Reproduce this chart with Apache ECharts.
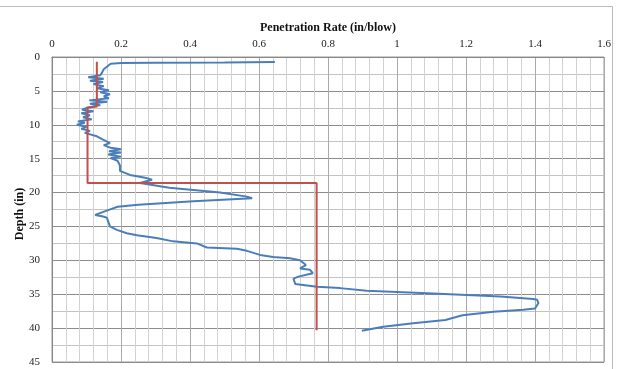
<!DOCTYPE html>
<html>
<head>
<meta charset="utf-8">
<script src="https://cdn.jsdelivr.net/npm/echarts@6/dist/echarts.min.js"></script>
<style>
html,body{margin:0;padding:0;background:#fff;}
#c{width:618px;height:369px;}
</style>
</head>
<body>
<div id="c"></div>
<script>
// Penetration rate (in/blow) measured along depth (in)
const rateBlue = [0.646,0.5,0.3,0.2,0.17,0.16,0.15,0.145,0.14,0.105,0.15,0.11,0.148,0.12,0.15,0.13,0.165,0.14,0.168,0.15,0.165,0.108,0.16,0.11,0.14,0.1,0.087,0.12,0.085,0.11,0.09,0.115,0.075,0.095,0.072,0.1,0.085,0.11,0.095,0.13,0.148,0.168,0.15,0.17,0.2,0.165,0.2,0.163,0.2,0.17,0.19,0.197,0.197,0.226,0.27,0.29,0.255,0.34,0.487,0.565,0.58,0.41,0.25,0.19,0.163,0.125,0.145,0.159,0.163,0.168,0.188,0.217,0.246,0.303,0.351,0.42,0.449,0.536,0.565,0.603,0.641,0.69,0.719,0.736,0.719,0.748,0.756,0.714,0.70,0.705,0.768,0.835,0.912,1.105,1.30,1.395,1.406,1.41,1.40,1.366,1.28,1.19,1.14,1.047,0.96,0.898];
const depthBlue = [0.74,0.8,0.85,0.9,1.0,1.4,1.8,2.3,2.7,3.0,3.2,3.5,3.7,4.0,4.3,4.6,4.9,5.2,5.5,5.8,6.1,6.4,6.6,6.9,7.1,7.5,7.8,8.0,8.3,8.6,8.9,9.2,9.5,9.7,10.0,10.3,10.6,10.9,11.2,11.7,12.2,12.7,13.0,13.4,13.6,13.9,14.1,14.4,14.7,14.9,15.3,16.0,16.8,17.4,17.8,18.1,18.6,19.3,20.0,20.6,20.85,21.3,21.8,22.1,22.6,23.3,23.5,23.7,24.3,25.0,25.5,26.0,26.3,26.7,27.2,27.5,28.1,28.3,28.6,29.2,29.5,29.7,30.0,30.7,31.2,31.4,31.9,32.4,32.7,33.5,33.9,34.1,34.5,34.9,35.35,35.7,35.8,36.3,37.1,37.3,37.6,38.1,38.8,39.3,39.8,40.4];
// Step (design) line
const rateRed = [0.13,0.13,0.103,0.103,0.767,0.767];
const depthRed = [0.7,7.3,7.5,18.6,18.6,40.3];
// Tick labels and titles
const xTickLabels = ['0','0.2','0.4','0.6','0.8','1','1.2','1.4','1.6'];
const yTickLabels = ['0','5','10','15','20','25','30','35','40','45'];
const xTitle = 'Penetration Rate (in/blow)';
const yTitle = 'Depth (in)';

const zip = (a, b) => a.map((v, i) => [v, b[i]]);
const font = 'Liberation Serif';

const chart = echarts.init(document.getElementById('c'));
chart.setOption({
  animation: false,
  backgroundColor: '#fff',
  grid: {left: 52, right: 14, top: 57, bottom: 7, containLabel: false, outerBoundsMode: 'none',
         show: true, borderColor: '#999', borderWidth: 1},
  xAxis: {
    type: 'value', position: 'top', min: 0, max: 1.6, interval: 0.2,
    name: xTitle, nameLocation: 'middle', nameGap: 23,
    nameTextStyle: {fontFamily: font, fontWeight: 'bold', fontSize: 12, color: '#111'},
    axisLine: {show: true, lineStyle: {color: '#888'}},
    axisTick: {show: false},
    axisLabel: {fontFamily: font, fontSize: 11, color: '#222', margin: 7,
                formatter: (v) => xTickLabels[Math.round(v / 0.2)]},
    splitLine: {show: true, lineStyle: {color: '#aaa', width: 1}},
    minorTick: {show: false, splitNumber: 5},
    minorSplitLine: {show: true, lineStyle: {color: '#d2d2d2', width: 1}}
  },
  yAxis: {
    type: 'value', inverse: true, min: 0, max: 45, interval: 5,
    axisLine: {show: true, lineStyle: {color: '#888'}},
    axisTick: {show: false},
    axisLabel: {fontFamily: font, fontSize: 11, color: '#222', margin: 12,
                formatter: (v) => yTickLabels[Math.round(v / 5)]},
    splitLine: {show: true, lineStyle: {color: '#8c8c8c', width: 1}},
    minorTick: {show: false, splitNumber: 2},
    minorSplitLine: {show: true, lineStyle: {color: '#c4c4c4', width: 1}}
  },
  graphic: [
    {type: 'line', shape: {x1: 0, y1: 6.5, x2: 612.5, y2: 6.5}, style: {stroke: '#bbb', lineWidth: 1}},
    {type: 'line', shape: {x1: 612.5, y1: 6.5, x2: 612.5, y2: 369}, style: {stroke: '#bbb', lineWidth: 1}},
    {type: 'text', x: 20, y: 214, rotation: Math.PI / 2,
     style: {text: yTitle, fontFamily: font, fontWeight: 'bold', fontSize: 12, fill: '#111',
             textAlign: 'center', textVerticalAlign: 'middle'}}
  ],
  series: [
    {type: 'line', data: zip(rateBlue, depthBlue), showSymbol: false, symbol: 'none',
     lineStyle: {color: '#4a7ebb', width: 2}, z: 3},
    {type: 'line', data: zip(rateRed, depthRed), showSymbol: false, symbol: 'none',
     lineStyle: {color: '#c0504d', width: 2}, z: 4}
  ]
});
</script>
</body>
</html>
